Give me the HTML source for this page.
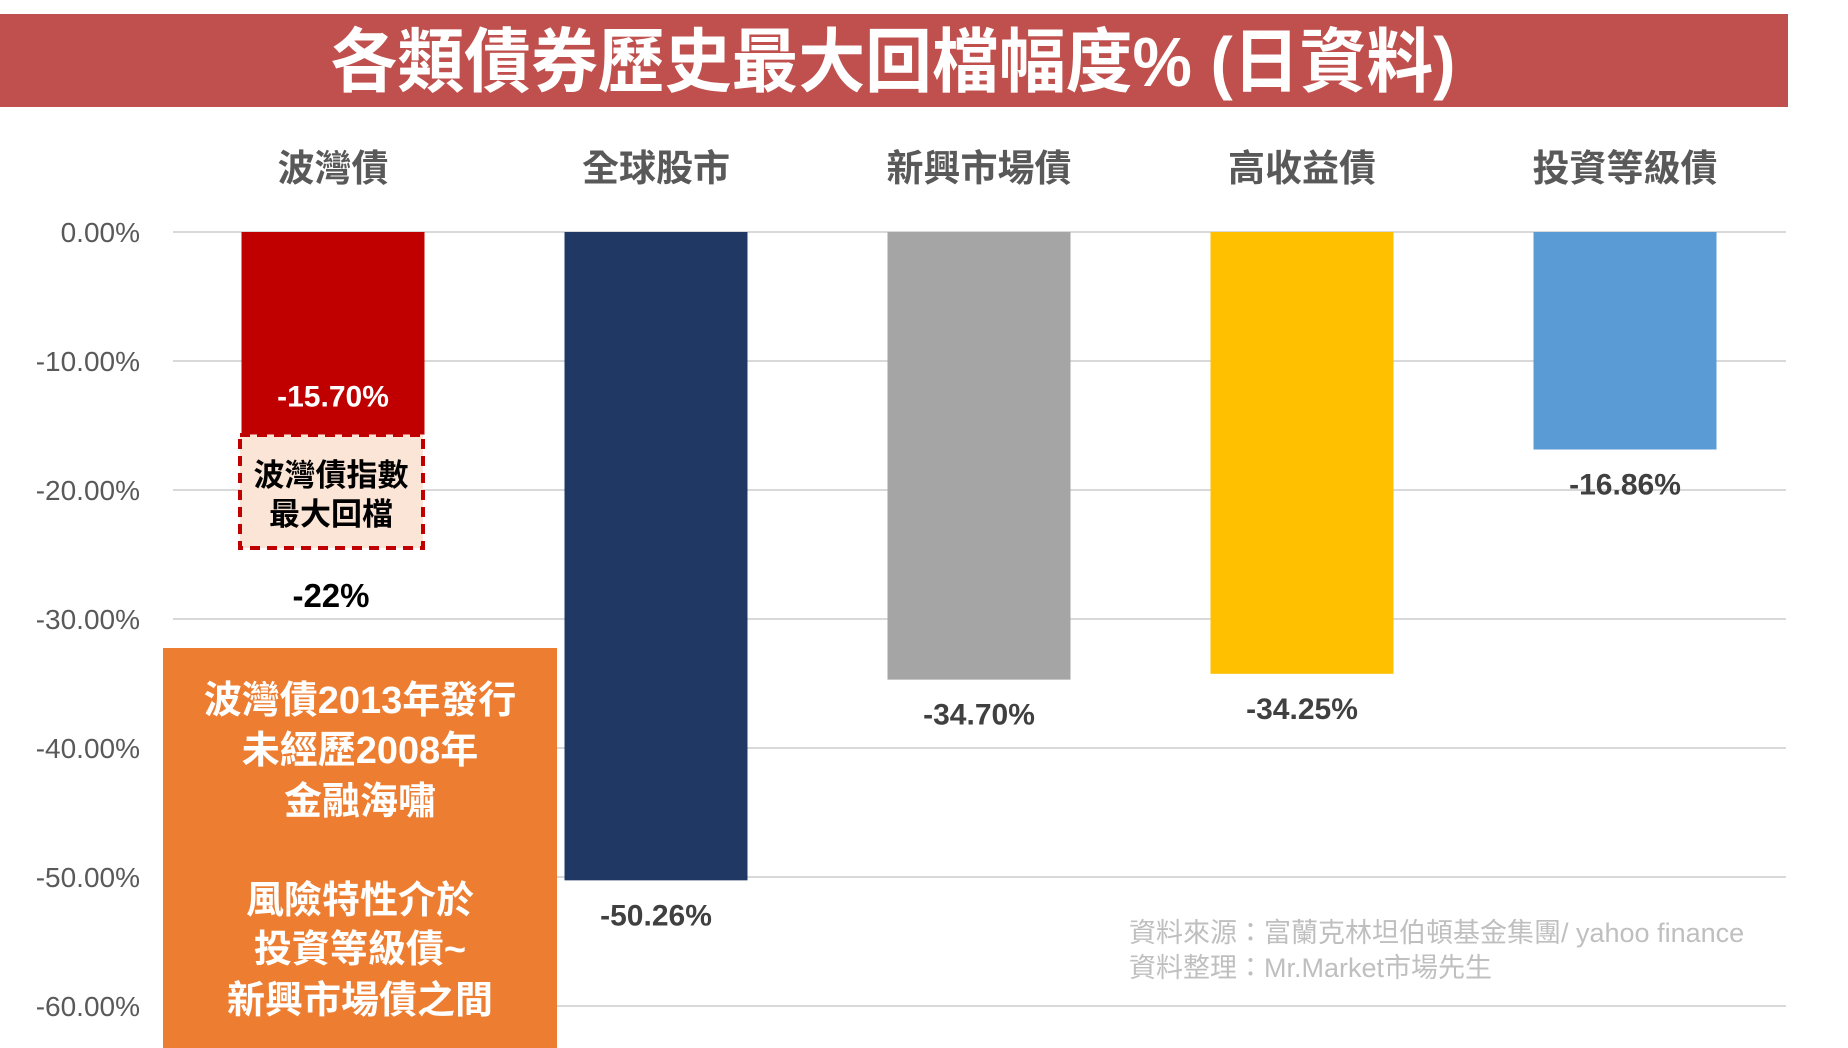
<!DOCTYPE html>
<html><head><meta charset="utf-8">
<style>
html,body{margin:0;padding:0;background:#fff;}
svg{display:block;}
text{font-family:"Liberation Sans","Noto Sans CJK TC",sans-serif;}
</style></head>
<body>
<svg id="chart" width="1848" height="1048" viewBox="0 0 1848 1048" xmlns="http://www.w3.org/2000/svg">
  <rect x="0" y="14" width="1788" height="93" fill="#C0504D"/>
  <text x="893" y="86" text-anchor="middle" font-size="70" font-weight="bold" fill="#fff" textLength="1125" lengthAdjust="spacingAndGlyphs">各類債券歷史最大回檔幅度% (日資料)</text>
  <g id="grid"></g>
  <g id="yticks"></g>
  <g id="cats"></g>
  <g id="bars"></g>
  <g id="vals"></g>

  <rect x="240" y="435" width="183" height="113" fill="#FBE5D6" stroke="#C00000" stroke-width="4" stroke-dasharray="10,7"/>
  <text x="331" y="486" text-anchor="middle" font-size="31" font-weight="bold" fill="#000">波灣債指數</text>
  <text x="331" y="525" text-anchor="middle" font-size="31" font-weight="bold" fill="#000">最大回檔</text>
  <text x="331" y="607" text-anchor="middle" font-size="33" font-weight="bold" fill="#000">-22%</text>

  <rect x="163" y="648" width="394" height="400" fill="#ED7D31"/>
  <g font-size="38" font-weight="bold" fill="#fff" text-anchor="middle">
    <text x="360" y="713">波灣債2013年發行</text>
    <text x="360" y="763">未經歷2008年</text>
    <text x="360" y="814">金融海嘯</text>
    <text x="360" y="913">風險特性介於</text>
    <text x="360" y="962">投資等級債~</text>
    <text x="360" y="1013">新興市場債之間</text>
  </g>

  <text x="1129" y="942" font-size="27" fill="#BFBFBF">資料來源：富蘭克林坦伯頓基金集團/ yahoo finance</text>
  <text x="1129" y="977" font-size="27" fill="#BFBFBF">資料整理：Mr.Market市場先生</text>
</svg>
<script>
const categories = ["波灣債","全球股市","新興市場債","高收益債","投資等級債"];
const values = [-15.70, -50.26, -34.70, -34.25, -16.86];
const valueLabels = ["-15.70%","-50.26%","-34.70%","-34.25%","-16.86%"];
const barColors = ["#C00000","#203864","#A5A5A5","#FFC000","#5B9BD5"];
const yTicks = [0,-10,-20,-30,-40,-50,-60];
const yTickLabels = ["0.00%","-10.00%","-20.00%","-30.00%","-40.00%","-50.00%","-60.00%"];

const NS = "http://www.w3.org/2000/svg";
const y0 = 232, pxPer = 12.9;
function yScale(v){ return y0 - v*pxPer; }
const firstCenter = 333, step = 323, barW = 183;
function xCenter(i){ return firstCenter + i*step; }
function mk(tag, attrs, parent){ const e=document.createElementNS(NS,tag); for(const k in attrs) e.setAttribute(k,attrs[k]); parent.appendChild(e); return e; }

const grid=document.getElementById('grid'), yt=document.getElementById('yticks');
yTicks.forEach((t,i)=>{
  const l=mk('line',{x1:173,x2:1786,y1:yScale(t),y2:yScale(t),stroke:'#D9D9D9','stroke-width':2},grid);
  
  
  const tx=mk('text',{x:140,y:yScale(t)+10,'text-anchor':'end','font-size':28,fill:'#595959'},yt);
  tx.textContent=yTickLabels[i];
  
  
});
const cats=document.getElementById('cats'), bars=document.getElementById('bars'), vals=document.getElementById('vals');
categories.forEach((c,i)=>{
  const t=mk('text',{x:xCenter(i),y:181,'text-anchor':'middle','font-size':37,'font-weight':'bold',fill:'#595959'},cats);
  t.textContent=c;
  
  
  const yTop=yScale(0), yBot=yScale(values[i]);
  const r=mk('rect',{x:xCenter(i)-barW/2,y:yTop,width:barW,height:yBot-yTop,fill:barColors[i]},bars);
  
  
  const inside = i===0;
  const vy = inside ? yBot-28 : yBot+45;
  const v=mk('text',{x:xCenter(i),y:vy,'text-anchor':'middle','font-size':30,'font-weight':'bold',fill:inside?'#fff':'#404040'},vals);
  v.textContent=valueLabels[i];
  
  
});
</script>
</body></html>
